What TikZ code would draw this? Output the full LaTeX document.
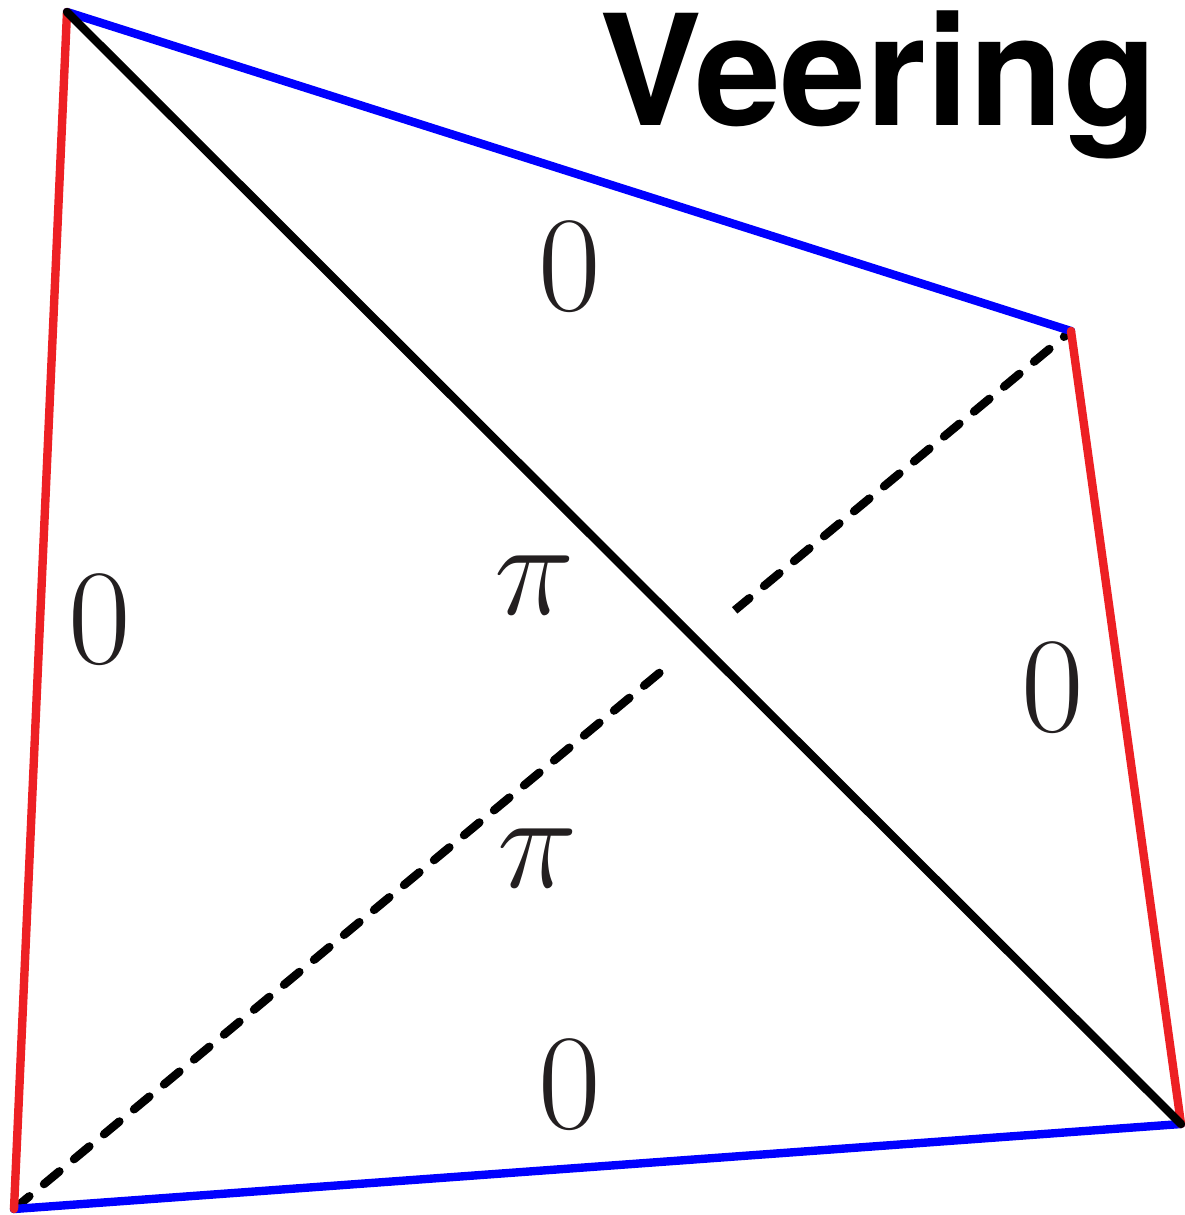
\documentclass[tikz,border=0pt]{standalone}
\usepackage{graphicx}
\usepackage{fontspec}
\newfontfamily\headfont{TeX Gyre Heros}
\definecolor{edgered}{RGB}{237,32,36}
\definecolor{edgeblue}{RGB}{0,0,255}
\definecolor{labgray}{RGB}{35,31,32}
\newcommand{\bigpi}{{\fontsize{24.88}{24.88}\selectfont\scalebox{2.733}{$\pi$}}}
\begin{document}
\begin{tikzpicture}[x=0.5pt,y=-0.5pt,
  edge/.style={line width=4.2pt,line cap=round,line join=round},
  lab/.style={inner sep=0pt,font=\fontsize{68}{68}\selectfont,text=labgray},
  dashedge/.style={line width=4.2pt,line cap=round,dash pattern=on 10pt off 9.5pt}]
\useasboundingbox (0,0) rectangle (1184,1215);
\coordinate (A) at (67,12);
\coordinate (B) at (1071,331);
\coordinate (C) at (1181,1124);
\coordinate (D) at (14,1209);
\coordinate (G1) at (668,667);
\coordinate (G2) at (735,611);
% dashed diagonal
\draw[dashedge] (D) -- (B);
\draw[line width=6.5pt,white] (G1) -- (G2);
% outer edges
\draw[edge,edgeblue] (A) -- (B);
\draw[edge,edgeblue] (D) -- (C);
\draw[edge,edgered] (B) -- (C);
\draw[edge,edgered] (A) -- (D);
% solid diagonal
\draw[edge,black] (A) -- (C);
% labels
\node[lab] (l1) at (570,267) {0};
\node[lab] (l2) at (100,620) {0};
\node[lab] (l3) at (1053,688) {0};
\node[lab] (l4) at (570,1085) {0};
\node[lab] (p1) at (535,585) {\bigpi};
\node[lab] (p2) at (538,858) {\bigpi};
\node[inner sep=0pt,anchor=base west,font=\headfont\bfseries\fontsize{77}{77}\selectfont] (title) at (599,125) {Veering};
\end{tikzpicture}
\end{document}
